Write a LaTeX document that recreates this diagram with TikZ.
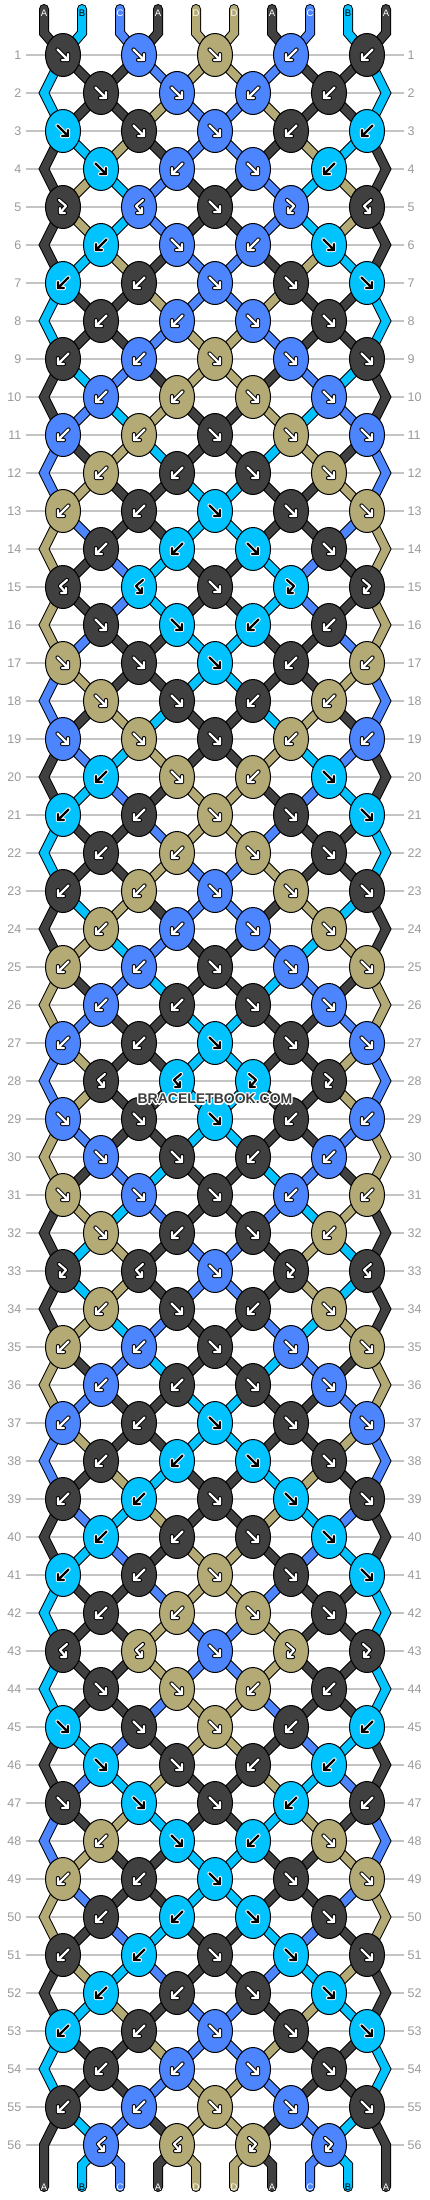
\documentclass[tikz,border=0pt]{standalone}
\usepackage{fontspec}
\setmainfont{Liberation Sans}
\usetikzlibrary{shapes.geometric}
\definecolor{colA}{HTML}{404040}
\definecolor{colB}{HTML}{00C3FF}
\definecolor{colC}{HTML}{4D85FF}
\definecolor{colD}{HTML}{B3AA75}
\definecolor{gridgray}{HTML}{C4C4C4}
\definecolor{numgray}{HTML}{9A9A9A}
\definecolor{wmtext}{HTML}{3C3C3C}
\pgfdeclarelayer{bgpaper}
\pgfdeclarelayer{grid}
\pgfdeclarelayer{strings}
\pgfsetlayers{bgpaper,grid,strings,main}
\def\rowdata{1/{F,F,F,B,B},2/{F,F,B,B},3/{F,F,F,B,B},4/{F,B,F,B},5/{FB,BF,F,FB,BF},6/{B,F,B,F},7/{B,B,F,F,F},8/{B,B,F,F},9/{B,B,F,F,F},10/{B,B,F,F},11/{B,B,F,F,F},12/{B,B,F,F},13/{B,B,F,F,F},14/{B,B,F,F},15/{BF,BF,F,FB,FB},16/{F,F,B,B},17/{F,F,F,B,B},18/{F,F,B,B},19/{F,F,F,B,B},20/{B,F,B,F},21/{B,B,F,F,F},22/{B,B,F,F},23/{B,B,F,F,F},24/{B,B,F,F},25/{B,B,F,F,F},26/{B,B,F,F},27/{B,B,F,F,F},28/{BF,BF,FB,FB},29/{F,F,F,B,B},30/{F,F,B,B},31/{F,F,F,B,B},32/{F,B,F,B},33/{FB,BF,F,FB,BF},34/{B,F,B,F},35/{B,B,F,F,F},36/{B,B,F,F},37/{B,B,F,F,F},38/{B,B,F,F},39/{B,B,F,F,F},40/{B,B,F,F},41/{B,B,F,F,F},42/{B,B,F,F},43/{BF,BF,F,FB,FB},44/{F,F,B,B},45/{F,F,F,B,B},46/{F,F,B,B},47/{F,F,F,B,B},48/{B,F,B,F},49/{B,B,F,F,F},50/{B,B,F,F},51/{B,B,F,F,F},52/{B,B,F,F},53/{B,B,F,F,F},54/{B,B,F,F},55/{B,B,F,F,F},56/{BF,BF,FB,FB}}
\def\tyF{F}\def\tyB{B}\def\tyFB{FB}\def\tyBF{BF}
\def\arrowfgA{white}\def\arrowbgA{black}
\def\arrowfgB{black}\def\arrowbgB{white}
\def\arrowfgC{white}\def\arrowbgC{black}
\def\arrowfgD{white}\def\arrowbgD{black}
\def\labtxtA{white}\def\labtxtB{black}\def\labtxtC{white}\def\labtxtD{white}
\newcommand\setcur[2]{\expandafter\xdef\csname cur#1\endcsname{#2}}
\newcommand\getcur[1]{\csname cur#1\endcsname}
\newcommand\iconF[1]{\draw[#1] (-5.5,-5.5) -- (5,5) (-1,5) -- (5,5) -- (5,-1);}
\newcommand\iconB[1]{\draw[#1] (5.5,-5.5) -- (-5,5) (1,5) -- (-5,5) -- (-5,-1);}
\newcommand\iconFB[1]{\draw[#1] (-4,-7) -- (3,-1) -- (-3,6) (2,6) -- (-3,6) -- (-3,1);}
\newcommand\iconBF[1]{\draw[#1] (4,-7) -- (-3,-1) -- (3,6) (-2,6) -- (3,6) -- (3,1);}
\begin{document}
\begin{tikzpicture}[x=1pt, y=-1pt,
  knot/.style={ellipse, minimum width=35pt, minimum height=43pt, inner sep=0pt, draw=black, line width=1pt},
  icnout/.style={line width=4.2pt, line cap=round, line join=round},
  icnin/.style={line width=2.2pt, line cap=round, line join=round},
  rownum/.style={font=\fontsize{12.5}{14}\selectfont, text=numgray, inner sep=0pt},
  strlabel/.style={font=\fontsize{9.5}{10}\selectfont, inner sep=0pt},
  wm/.style={font=\bfseries\fontsize{14}{16}\selectfont, inner sep=0pt}]
\begin{pgfonlayer}{bgpaper}
\fill[white] (0,0) rectangle (430,2200);
\end{pgfonlayer}
\useasboundingbox (0,0) rectangle (430,2200);
% simulation of the strings
\foreach \j/\c in {1/A,2/B,3/C,4/A,5/D,6/D,7/A,8/C,9/B,10/A}{\setcur{\j}{\c}\expandafter\xdef\csname S-0-\j\endcsname{\c}}
\foreach \rw/\tys in \rowdata {
  \pgfmathtruncatemacro\odd{mod(\rw,2)}
  \foreach \ty [count=\kk] in \tys {
    \ifnum\odd=1\relax \pgfmathtruncatemacro\pp{2*\kk-1}\else \pgfmathtruncatemacro\pp{2*\kk}\fi
    \pgfmathtruncatemacro\qq{\pp+1}
    \edef\lcol{\getcur{\pp}}\edef\rcol{\getcur{\qq}}
    \edef\tyx{\ty}
    \ifx\tyx\tyF \edef\kcol{\lcol}\setcur{\pp}{\rcol}\setcur{\qq}{\lcol}\fi
    \ifx\tyx\tyB \edef\kcol{\rcol}\setcur{\pp}{\rcol}\setcur{\qq}{\lcol}\fi
    \ifx\tyx\tyFB \edef\kcol{\lcol}\fi
    \ifx\tyx\tyBF \edef\kcol{\rcol}\fi
    \expandafter\xdef\csname KC-\rw-\kk\endcsname{\kcol}
    \expandafter\xdef\csname KT-\rw-\kk\endcsname{\tyx}
  }
  \foreach \j in {1,...,10}{\expandafter\xdef\csname S-\rw-\j\endcsname{\getcur{\j}}}
}
% grid lines and row numbers
\begin{pgfonlayer}{grid}
\foreach \rw in {1,...,56}{
  \pgfmathsetmacro\yy{55+38*(\rw-1)}
  \draw[gridgray, line width=1.2pt] (26,\yy) -- (404,\yy);
  \node[rownum, anchor=east] (NL-\rw) at (21.5,\yy) {\rw};
  \node[rownum, anchor=west] (NR-\rw) at (407.5,\yy) {\rw};
}
\end{pgfonlayer}
% string end points
\foreach \j in {1,...,10}{
  \pgfmathsetmacro\xj{44+38*(\j-1)}
  \coordinate (TT-\j) at (\xj,9);
  \coordinate (TB-\j) at (\xj,33);
  \coordinate (BB-\j) at (\xj,2165);
  \coordinate (BT-\j) at (\xj,2187);
}
% knots
\foreach \rw/\tys in \rowdata {
  \pgfmathtruncatemacro\odd{mod(\rw,2)}
  \pgfmathsetmacro\yy{55+38*(\rw-1)}
  \ifnum\odd=0\relax
    \coordinate (EL-\rw) at (44,\yy);
    \coordinate (ER-\rw) at (386,\yy);
  \fi
  \foreach \ty [count=\kk] in \tys {
    \ifnum\odd=1\relax \pgfmathsetmacro\xx{63+76*(\kk-1)}\else \pgfmathsetmacro\xx{101+76*(\kk-1)}\fi
    \edef\kcol{\csname KC-\rw-\kk\endcsname}
    \edef\ktyp{\csname KT-\rw-\kk\endcsname}
    \edef\afg{\csname arrowfg\kcol\endcsname}
    \edef\abg{\csname arrowbg\kcol\endcsname}
    \node[knot, fill=col\kcol] (K-\rw-\kk) at (\xx,\yy) {};
    \begin{scope}[shift={(\xx,\yy)}]
      \csname icon\ktyp\endcsname{icnout, draw=\abg}
      \csname icon\ktyp\endcsname{icnin, draw=\afg}
    \end{scope}
  }
}
% strings
\begin{pgfonlayer}{strings}
\foreach \pass in {0,1}{
  \ifnum\pass=0\relax
    \tikzset{strpass/.style={line width=10pt, draw=black, line cap=round}}
  \else
    \tikzset{strpass/.style={line width=8pt, line cap=round}}
  \fi
  \foreach \j in {1,...,10}{
    \pgfmathtruncatemacro\ka{ceil(\j/2)}
    \edef\stc{\csname S-0-\j\endcsname}
    \draw[draw=col\stc, strpass] (TT-\j) -- (TB-\j) -- (K-1-\ka.center);
  }
  \foreach \rw in {1,...,55}{
    \pgfmathtruncatemacro\nr{\rw+1}
    \foreach \j in {2,...,9}{
      \ifodd\rw\relax
        \pgfmathtruncatemacro\ka{ceil(\j/2)}\pgfmathtruncatemacro\kb{floor(\j/2)}
      \else
        \pgfmathtruncatemacro\ka{floor(\j/2)}\pgfmathtruncatemacro\kb{ceil(\j/2)}
      \fi
      \edef\stc{\csname S-\rw-\j\endcsname}
      \draw[draw=col\stc, strpass] (K-\rw-\ka.center) -- (K-\nr-\kb.center);
    }
  }
  \foreach \rw in {1,3,...,53}{
    \pgfmathtruncatemacro\nr{\rw+1}\pgfmathtruncatemacro\nn{\rw+2}
    \edef\stc{\csname S-\rw-1\endcsname}
    \draw[draw=col\stc, strpass] (K-\rw-1.center) -- (EL-\nr) -- (K-\nn-1.center);
    \edef\stc{\csname S-\rw-10\endcsname}
    \draw[draw=col\stc, strpass] (K-\rw-5.center) -- (ER-\nr) -- (K-\nn-5.center);
  }
  \edef\stc{\csname S-55-1\endcsname}
  \draw[draw=col\stc, strpass] (K-55-1.center) -- (EL-56) -- (BT-1);
  \edef\stc{\csname S-55-10\endcsname}
  \draw[draw=col\stc, strpass] (K-55-5.center) -- (ER-56) -- (BT-10);
  \foreach \j in {2,...,9}{
    \pgfmathtruncatemacro\ka{floor(\j/2)}
    \edef\stc{\csname S-56-\j\endcsname}
    \draw[draw=col\stc, strpass] (K-56-\ka.center) -- (BB-\j) -- (BT-\j);
  }
}
\end{pgfonlayer}
% string letters
\foreach \j/\c in {1/A,2/B,3/C,4/A,5/D,6/D,7/A,8/C,9/B,10/A}{
  \pgfmathsetmacro\xj{44+38*(\j-1)}
  \edef\ltc{\csname labtxt\c\endcsname}
  \node[strlabel, text=\ltc] (LT-\j) at (\xj,13) {\c};
  \node[strlabel, text=\ltc] (LB-\j) at (\xj,2187) {\c};
}
% watermark
\foreach \dx/\dy [count=\i] in {1.2/0,-1.2/0,0/1.2,0/-1.2,0.9/0.9,-0.9/0.9,0.9/-0.9,-0.9/-0.9}{
  \node[wm, text=white] (WMH-\i) at (215+\dx,1099+\dy) {BRACELETBOOK.COM};
}
\node[wm, text=wmtext] (WM) at (215,1099) {BRACELETBOOK.COM};
\end{tikzpicture}
\end{document}
